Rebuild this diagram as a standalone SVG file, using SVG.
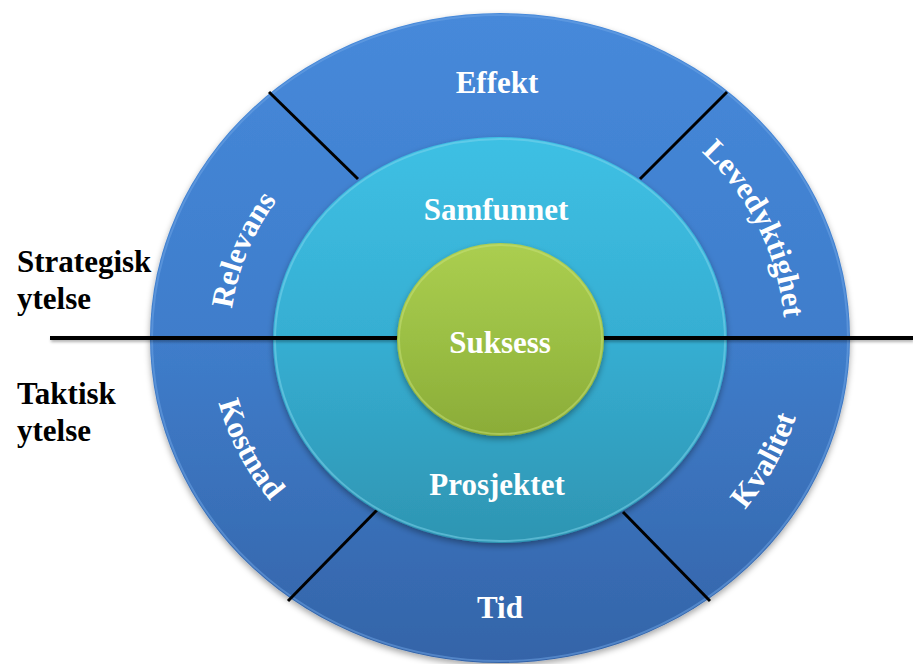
<svg xmlns="http://www.w3.org/2000/svg" width="913" height="664" viewBox="0 0 913 664">
  <style>
    .lbl { font-family: "Liberation Serif", "Times New Roman", serif; font-weight: bold; font-size: 31px; fill: #ffffff; }
    .side { font-family: "Liberation Serif", "Times New Roman", serif; font-weight: bold; font-size: 31px; fill: #000000; }
    .div { stroke: #000000; stroke-width: 3; fill: none; }
    .axis { stroke: #000000; stroke-width: 4; fill: none; }
  </style>
  <defs>
    <linearGradient id="gOuter" x1="0" y1="0" x2="0" y2="1">
      <stop offset="0" stop-color="#4689DA"/>
      <stop offset="0.5" stop-color="#3F7DCB"/>
      <stop offset="1" stop-color="#3464A8"/>
    </linearGradient>
    <linearGradient id="gMid" x1="0" y1="0" x2="0" y2="1">
      <stop offset="0" stop-color="#3EC0E4"/>
      <stop offset="0.5" stop-color="#36AED2"/>
      <stop offset="1" stop-color="#2E95B2"/>
    </linearGradient>
    <linearGradient id="gInner" x1="0" y1="0" x2="0" y2="1">
      <stop offset="0" stop-color="#ABCE50"/>
      <stop offset="0.5" stop-color="#9BBF44"/>
      <stop offset="1" stop-color="#8BAC38"/>
    </linearGradient>
    <filter id="shadow" x="-10%" y="-10%" width="120%" height="125%">
      <feDropShadow dx="0" dy="3" stdDeviation="3" flood-color="#000000" flood-opacity="0.35"/>
    </filter>
    <filter id="lineShadow" filterUnits="userSpaceOnUse" x="0" y="320" width="913" height="40">
      <feDropShadow dx="1" dy="2" stdDeviation="1.5" flood-color="#000000" flood-opacity="0.3"/>
    </filter>
    <path id="arcRelevans" d="M 246.3 423.1 A 270 246 0 0 1 365 126"/>
    <path id="arcLeved" d="M 633.8 105.1 A 285 266 0 0 1 771 421.2"/>
    <path id="arcKostnad" d="M 219.9 270.2 A 290 266 0 0 0 377.4 580.1"/>
    <path id="arcKvalitet" d="M 625.2 595.6 A 304 279 0 0 0 798.4 270.4"/>
  </defs>

  <g id="outer-ring">
    <ellipse cx="500" cy="338" rx="350" ry="325" fill="url(#gOuter)" filter="url(#shadow)"/>
    <ellipse cx="500" cy="338" rx="348" ry="323" fill="none" stroke="#6FA6E6" stroke-opacity="0.5" stroke-width="2"/>
  </g>

  <g id="connectors">
    <line class="div" x1="269" y1="92" x2="358" y2="179"/>
    <line class="div" x1="727" y1="92" x2="640" y2="179"/>
    <line class="div" x1="288" y1="601" x2="377" y2="510"/>
    <line class="div" x1="710" y1="601" x2="623" y2="512"/>
  </g>

  <g id="outer-labels">
    <text class="lbl" x="497" y="93" text-anchor="middle">Effekt</text>
    <text class="lbl" x="500" y="618" text-anchor="middle">Tid</text>
    <text class="lbl"><textPath href="#arcRelevans" startOffset="50%" text-anchor="middle">Relevans</textPath></text>
    <text class="lbl"><textPath href="#arcLeved" startOffset="47%" text-anchor="middle">Levedyktighet</textPath></text>
    <text class="lbl"><textPath href="#arcKostnad" startOffset="50%" text-anchor="middle">Kostnad</textPath></text>
    <text class="lbl"><textPath href="#arcKvalitet" startOffset="50%" text-anchor="middle">Kvalitet</textPath></text>
  </g>

  <g id="middle-ring">
    <ellipse cx="500" cy="340" rx="227" ry="203" fill="url(#gMid)" filter="url(#shadow)"/>
    <ellipse cx="500" cy="340" rx="225" ry="201" fill="none" stroke="#7FD6EE" stroke-opacity="0.5" stroke-width="2"/>
    <text class="lbl" x="496" y="220" text-anchor="middle">Samfunnet</text>
    <text class="lbl" x="497" y="495" text-anchor="middle">Prosjektet</text>
  </g>

  <g id="axis">
    <line class="axis" x1="50" y1="338" x2="913" y2="338" filter="url(#lineShadow)"/>
  </g>

  <g id="inner-core">
    <ellipse cx="500.5" cy="339.5" rx="103.5" ry="96.5" fill="url(#gInner)" filter="url(#shadow)"/>
    <ellipse cx="500.5" cy="339.5" rx="101.5" ry="94.5" fill="none" stroke="#C7E27A" stroke-opacity="0.5" stroke-width="2"/>
    <text class="lbl" x="500" y="353" text-anchor="middle">Suksess</text>
  </g>

  <g id="strategisk">
    <text class="side" x="17" y="272">Strategisk</text>
    <text class="side" x="17" y="309">ytelse</text>
  </g>
  <g id="taktisk">
    <text class="side" x="17" y="404">Taktisk</text>
    <text class="side" x="17" y="441">ytelse</text>
  </g>
</svg>
